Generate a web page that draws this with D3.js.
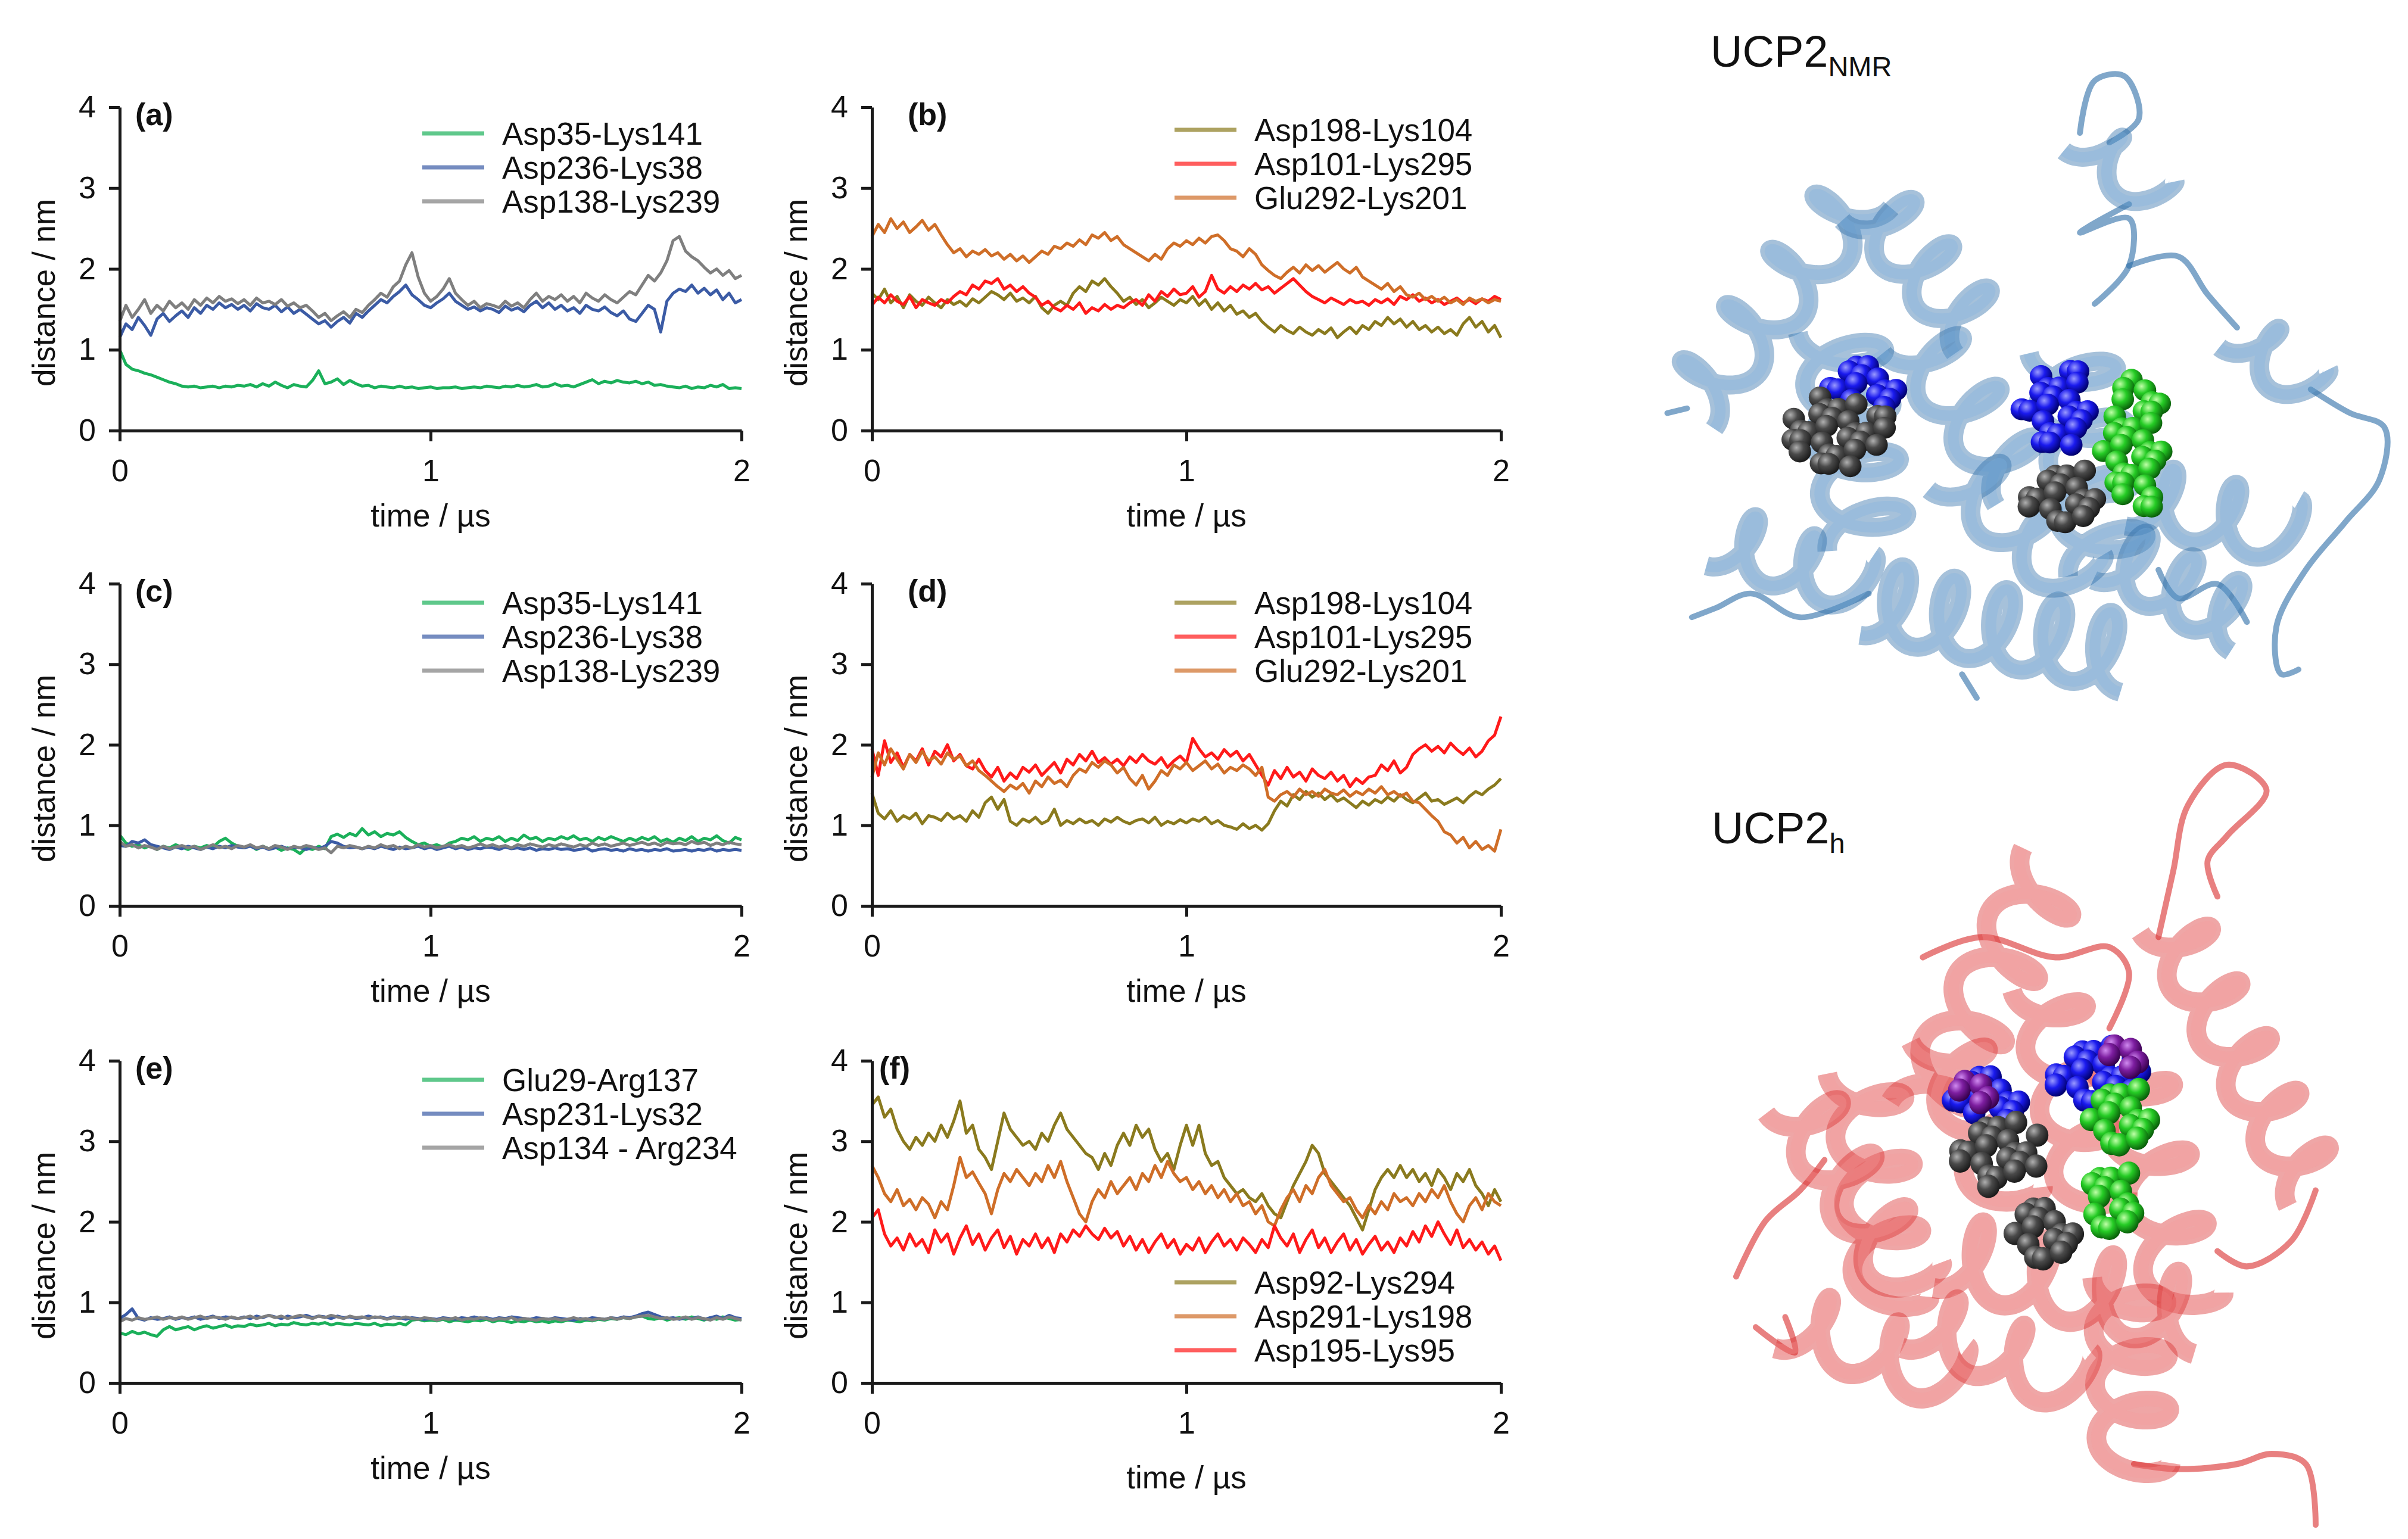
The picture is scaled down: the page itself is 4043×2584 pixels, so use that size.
<!DOCTYPE html>
<html lang="en">
<head>
<meta charset="utf-8">
<script src="https://d3js.org/d3.v7.min.js"></script>
<title>UCP2 salt bridge distances</title>
<style>
  body {margin: 0; background: #fff;}
  svg {display: block; font-family: "Liberation Sans", Arial, sans-serif;}
  .axis path, .axis line {stroke: #1a1a1a; stroke-width: 5px;}
  .axis text {font-size: 52px; fill: #111; font-family: "Liberation Sans", Arial, sans-serif;}
  .title {font-size: 53px; fill: #111;}
  .legend text {font-size: 53px; fill: #111;}
  .plabel {font-size: 52px; font-weight: bold; fill: #111;}
  .trace {fill: none; stroke-width: 5px; stroke-linejoin: round;}
</style>
</head>
<body>
<svg id="fig" width="4043" height="2584"></svg>
<script>
// ---------- data (one sample every 0.02 µs, 0..2 µs) ----------
var tStep = 0.02;
var xTicks = [0, 1, 2];
var yTicks = [0, 1, 2, 3, 4];
var xTitle = 'time / µs';
var yTitle = 'distance / nm';
var panelLabels = ['(a)', '(b)', '(c)', '(d)', '(e)', '(f)'];

var namesAC = ['Asp35-Lys141', 'Asp236-Lys38', 'Asp138-Lys239'];
var namesBD = ['Asp198-Lys104', 'Asp101-Lys295', 'Glu292-Lys201'];
var namesE = ['Glu29-Arg137', 'Asp231-Lys32', 'Asp134 - Arg234'];
var namesF = ['Asp92-Lys294', 'Asp291-Lys198', 'Asp195-Lys95'];

// (a)
var aGreen = [1.00,0.82,0.76,0.74,0.71,0.69,0.66,0.63,0.60,0.58, 0.55,0.54,0.55,0.53,0.54,0.55,0.53,0.55,0.54,0.56,
  0.55,0.57,0.54,0.58,0.55,0.60,0.56,0.53,0.57,0.55, 0.54,0.62,0.74,0.58,0.60,0.64,0.57,0.62,0.58,0.55,
  0.56,0.53,0.55,0.54,0.53,0.55,0.53,0.54,0.52,0.53, 0.54,0.52,0.53,0.53,0.54,0.52,0.53,0.54,0.53,0.55,
  0.54,0.53,0.55,0.54,0.56,0.54,0.55,0.57,0.54,0.55, 0.58,0.55,0.56,0.54,0.57,0.60,0.63,0.58,0.61,0.59,
  0.62,0.60,0.59,0.61,0.58,0.60,0.56,0.57,0.55,0.54, 0.53,0.55,0.52,0.54,0.53,0.56,0.54,0.57,0.52,0.53, 0.52];
var aBlue = [1.15,1.32,1.25,1.40,1.30,1.18,1.38,1.45,1.35,1.42, 1.48,1.40,1.52,1.45,1.55,1.50,1.58,1.52,1.56,1.50,
  1.55,1.48,1.57,1.52,1.50,1.55,1.47,1.53,1.45,1.50, 1.44,1.38,1.32,1.36,1.28,1.35,1.40,1.33,1.45,1.40,
  1.48,1.55,1.62,1.58,1.66,1.72,1.80,1.68,1.62,1.55, 1.52,1.58,1.63,1.70,1.60,1.55,1.50,1.53,1.48,1.52,
  1.50,1.46,1.54,1.49,1.52,1.47,1.55,1.60,1.52,1.58, 1.50,1.55,1.48,1.52,1.45,1.55,1.50,1.48,1.53,1.46,
  1.42,1.48,1.38,1.35,1.45,1.55,1.50,1.22,1.60,1.70, 1.75,1.72,1.80,1.70,1.76,1.68,1.74,1.62,1.70,1.58, 1.62];
var aGray = [1.35,1.55,1.40,1.50,1.62,1.45,1.55,1.48,1.60,1.52, 1.58,1.50,1.62,1.55,1.64,1.58,1.66,1.60,1.63,1.57,
  1.62,1.55,1.64,1.58,1.60,1.56,1.62,1.54,1.58,1.52, 1.55,1.48,1.40,1.45,1.36,1.42,1.47,1.40,1.50,1.46,
  1.55,1.62,1.70,1.65,1.78,1.85,2.05,2.20,1.90,1.70, 1.60,1.66,1.75,1.88,1.70,1.62,1.55,1.60,1.52,1.57,
  1.55,1.52,1.60,1.54,1.58,1.52,1.62,1.70,1.60,1.66, 1.62,1.68,1.60,1.66,1.58,1.70,1.64,1.60,1.68,1.62,
  1.58,1.65,1.72,1.68,1.80,1.92,1.85,1.95,2.10,2.35, 2.40,2.22,2.15,2.10,2.02,1.95,2.00,1.92,1.98,1.88, 1.92];

// (b)
var bOlive = [1.70,1.62,1.75,1.58,1.66,1.52,1.68,1.60,1.55,1.65, 1.58,1.52,1.62,1.56,1.60,1.54,1.63,1.58,1.65,1.72,
  1.68,1.62,1.70,1.60,1.64,1.58,1.66,1.52,1.45,1.55, 1.60,1.55,1.70,1.78,1.72,1.85,1.80,1.88,1.78,1.70,
  1.60,1.65,1.56,1.62,1.52,1.58,1.65,1.60,1.55,1.62, 1.58,1.66,1.55,1.62,1.50,1.58,1.48,1.55,1.44,1.48,
  1.40,1.45,1.35,1.28,1.22,1.30,1.24,1.20,1.28,1.22, 1.18,1.25,1.20,1.27,1.15,1.22,1.28,1.20,1.30,1.25,
  1.35,1.30,1.40,1.32,1.38,1.28,1.35,1.25,1.30,1.22, 1.28,1.20,1.25,1.18,1.32,1.40,1.28,1.35,1.22,1.30, 1.15];
var bRed = [1.55,1.65,1.58,1.68,1.60,1.56,1.66,1.52,1.62,1.58, 1.55,1.62,1.58,1.66,1.72,1.68,1.80,1.75,1.85,1.82,
  1.88,1.75,1.80,1.72,1.78,1.70,1.65,1.55,1.60,1.52, 1.48,1.55,1.50,1.58,1.45,1.52,1.48,1.56,1.50,1.55,
  1.52,1.58,1.62,1.55,1.68,1.60,1.72,1.66,1.75,1.68, 1.70,1.78,1.65,1.72,1.92,1.75,1.70,1.78,1.72,1.80,
  1.75,1.82,1.74,1.78,1.70,1.76,1.82,1.88,1.80,1.72, 1.66,1.62,1.58,1.64,1.60,1.56,1.62,1.58,1.60,1.55,
  1.62,1.58,1.63,1.56,1.66,1.62,1.68,1.60,1.64,1.58, 1.62,1.56,1.60,1.64,1.58,1.62,1.57,1.63,1.60,1.66, 1.62];
var bOrange = [2.40,2.55,2.45,2.62,2.50,2.58,2.45,2.52,2.60,2.48, 2.55,2.42,2.30,2.20,2.25,2.15,2.22,2.18,2.24,2.16,
  2.20,2.12,2.18,2.10,2.16,2.08,2.15,2.22,2.18,2.28, 2.25,2.32,2.28,2.36,2.30,2.42,2.38,2.45,2.35,2.40,
  2.30,2.25,2.20,2.15,2.10,2.18,2.12,2.25,2.32,2.28, 2.35,2.30,2.38,2.32,2.40,2.42,2.35,2.25,2.22,2.15,
  2.25,2.18,2.05,1.98,1.92,1.88,1.96,2.02,1.95,2.05, 1.98,2.04,1.96,2.02,2.08,2.00,1.95,2.02,1.90,1.85,
  1.80,1.75,1.82,1.72,1.78,1.68,1.65,1.70,1.62,1.66, 1.60,1.65,1.58,1.62,1.56,1.64,1.60,1.63,1.58,1.62, 1.60];

// (c)
var cGreen = [0.88,0.78,0.74,0.76,0.72,0.75,0.70,0.74,0.72,0.76, 0.73,0.70,0.74,0.72,0.75,0.73,0.80,0.84,0.78,0.74,
  0.72,0.75,0.70,0.74,0.71,0.73,0.69,0.72,0.70,0.65, 0.72,0.70,0.74,0.71,0.86,0.89,0.85,0.90,0.87,0.96,
  0.88,0.92,0.86,0.90,0.88,0.92,0.85,0.80,0.76,0.78, 0.74,0.76,0.73,0.78,0.80,0.84,0.82,0.86,0.80,0.84,
  0.82,0.86,0.80,0.84,0.81,0.88,0.83,0.85,0.80,0.84, 0.82,0.86,0.83,0.87,0.82,0.84,0.80,0.85,0.82,0.86,
  0.83,0.80,0.84,0.81,0.85,0.82,0.86,0.80,0.83,0.79, 0.84,0.81,0.86,0.80,0.84,0.82,0.87,0.81,0.78,0.85, 0.82];
var cBlue = [0.75,0.74,0.80,0.78,0.82,0.76,0.74,0.72,0.70,0.73, 0.71,0.74,0.72,0.70,0.73,0.71,0.74,0.72,0.75,0.73,
  0.72,0.74,0.71,0.73,0.70,0.72,0.74,0.71,0.73,0.72, 0.70,0.73,0.71,0.74,0.80,0.78,0.74,0.72,0.73,0.71,
  0.73,0.71,0.74,0.72,0.70,0.73,0.71,0.72,0.74,0.71, 0.73,0.70,0.72,0.74,0.71,0.73,0.70,0.72,0.71,0.73,
  0.72,0.70,0.73,0.71,0.72,0.70,0.72,0.69,0.71,0.70, 0.72,0.70,0.71,0.69,0.70,0.72,0.68,0.70,0.71,0.69,
  0.70,0.68,0.71,0.69,0.70,0.68,0.70,0.69,0.71,0.68, 0.69,0.70,0.68,0.70,0.69,0.71,0.68,0.70,0.69,0.70, 0.69];
var cGray = [0.80,0.74,0.76,0.72,0.75,0.73,0.70,0.74,0.71,0.73, 0.75,0.72,0.74,0.70,0.73,0.76,0.72,0.74,0.71,0.75,
  0.73,0.76,0.72,0.74,0.71,0.75,0.73,0.70,0.74,0.72, 0.75,0.73,0.70,0.72,0.66,0.74,0.72,0.75,0.73,0.71,
  0.74,0.72,0.76,0.73,0.75,0.71,0.74,0.72,0.76,0.73, 0.75,0.72,0.74,0.76,0.73,0.75,0.72,0.74,0.77,0.74,
  0.76,0.73,0.75,0.72,0.76,0.74,0.77,0.75,0.73,0.76, 0.74,0.77,0.75,0.73,0.76,0.74,0.78,0.75,0.77,0.74,
  0.76,0.78,0.75,0.77,0.79,0.76,0.78,0.75,0.79,0.77, 0.78,0.76,0.80,0.77,0.79,0.75,0.78,0.76,0.79,0.77, 0.76];

// (d)
var dOlive = [1.40,1.15,1.08,1.18,1.05,1.12,1.08,1.15,1.02,1.12, 1.10,1.06,1.15,1.08,1.12,1.05,1.18,1.10,1.28,1.35,
  1.20,1.32,1.05,1.00,1.08,1.04,1.10,1.02,1.06,1.20, 1.00,1.06,1.02,1.08,1.03,1.06,1.00,1.08,1.04,1.10,
  1.05,1.02,1.06,1.08,1.03,1.10,1.00,1.05,1.02,1.07, 1.03,1.08,1.05,1.10,1.02,1.06,1.00,0.98,0.95,1.02,
  0.96,1.00,0.94,1.02,1.18,1.30,1.24,1.38,1.32,1.42, 1.35,1.40,1.32,1.38,1.30,1.34,1.28,1.22,1.30,1.25,
  1.32,1.28,1.35,1.30,1.38,1.32,1.28,1.34,1.40,1.30, 1.32,1.26,1.30,1.34,1.28,1.36,1.42,1.38,1.45,1.50, 1.58];
var dRed = [1.95,1.62,2.05,1.78,1.90,1.72,1.88,1.80,1.95,1.75, 1.92,1.85,2.00,1.80,1.88,1.74,1.70,1.82,1.68,1.60,
  1.72,1.55,1.65,1.58,1.72,1.66,1.75,1.62,1.70,1.78, 1.65,1.82,1.75,1.88,1.80,1.92,1.78,1.84,1.76,1.82,
  1.74,1.85,1.78,1.88,1.80,1.76,1.84,1.72,1.80,1.86, 1.78,2.08,1.95,1.85,1.90,1.82,1.94,1.86,1.92,1.80,
  1.88,1.75,1.62,1.50,1.68,1.58,1.72,1.60,1.66,1.55, 1.70,1.62,1.58,1.66,1.55,1.62,1.48,1.58,1.52,1.60,
  1.62,1.75,1.68,1.80,1.65,1.72,1.88,1.95,2.00,1.92, 1.98,1.90,2.02,1.94,1.88,1.96,1.85,1.92,2.05,2.12, 2.35];
var dOrange = [1.60,1.90,1.75,1.95,1.82,1.70,1.88,1.78,1.92,1.80, 1.85,1.76,1.90,1.82,1.86,1.74,1.80,1.68,1.62,1.55,
  1.48,1.42,1.50,1.45,1.52,1.40,1.55,1.48,1.60,1.52, 1.56,1.48,1.62,1.70,1.66,1.78,1.72,1.80,1.75,1.65,
  1.72,1.58,1.50,1.62,1.45,1.55,1.68,1.62,1.75,1.70, 1.78,1.68,1.74,1.80,1.70,1.76,1.65,1.72,1.68,1.75,
  1.70,1.62,1.72,1.35,1.30,1.38,1.42,1.35,1.45,1.38, 1.42,1.36,1.45,1.40,1.38,1.44,1.36,1.42,1.38,1.45,
  1.40,1.48,1.38,1.42,1.36,1.40,1.30,1.28,1.20,1.12, 1.05,0.92,0.88,0.78,0.85,0.72,0.80,0.70,0.75,0.68, 0.95];

// (e)
var eGreen = [0.62,0.60,0.64,0.61,0.63,0.60,0.58,0.66,0.70,0.66, 0.68,0.70,0.66,0.69,0.71,0.68,0.70,0.72,0.69,0.71,
  0.70,0.73,0.71,0.72,0.74,0.71,0.73,0.72,0.75,0.73, 0.72,0.74,0.73,0.75,0.72,0.74,0.73,0.72,0.74,0.73,
  0.72,0.74,0.71,0.73,0.72,0.74,0.72,0.78,0.79,0.77, 0.78,0.77,0.79,0.76,0.78,0.77,0.76,0.78,0.77,0.79,
  0.76,0.78,0.77,0.75,0.77,0.76,0.78,0.76,0.77,0.75, 0.77,0.76,0.78,0.77,0.76,0.78,0.77,0.79,0.78,0.80,
  0.79,0.81,0.80,0.82,0.83,0.80,0.79,0.81,0.78,0.80, 0.81,0.79,0.82,0.80,0.78,0.81,0.79,0.82,0.80,0.78, 0.79];
var eBlue = [0.80,0.85,0.92,0.80,0.78,0.81,0.79,0.80,0.82,0.79, 0.81,0.80,0.82,0.79,0.81,0.83,0.80,0.82,0.81,0.80,
  0.82,0.80,0.83,0.81,0.84,0.82,0.80,0.83,0.81,0.82, 0.84,0.81,0.83,0.82,0.80,0.83,0.81,0.82,0.80,0.81,
  0.83,0.81,0.82,0.80,0.82,0.81,0.79,0.81,0.80,0.79, 0.80,0.79,0.81,0.80,0.79,0.81,0.80,0.82,0.80,0.81,
  0.79,0.81,0.80,0.82,0.81,0.80,0.79,0.81,0.80,0.79, 0.81,0.80,0.79,0.78,0.80,0.79,0.81,0.80,0.79,0.81,
  0.80,0.82,0.81,0.83,0.86,0.88,0.85,0.82,0.80,0.81, 0.79,0.81,0.80,0.82,0.79,0.81,0.83,0.80,0.84,0.81, 0.80];
var eGray = [0.76,0.80,0.78,0.81,0.79,0.80,0.82,0.79,0.81,0.80, 0.82,0.79,0.81,0.83,0.80,0.82,0.81,0.79,0.82,0.80,
  0.81,0.83,0.80,0.82,0.84,0.81,0.83,0.80,0.82,0.84, 0.82,0.80,0.83,0.81,0.84,0.82,0.80,0.83,0.81,0.82,
  0.80,0.82,0.81,0.79,0.81,0.80,0.82,0.80,0.79,0.81, 0.80,0.78,0.80,0.79,0.81,0.78,0.80,0.79,0.81,0.80,
  0.78,0.80,0.79,0.81,0.78,0.80,0.79,0.78,0.80,0.79, 0.80,0.78,0.79,0.81,0.79,0.80,0.78,0.80,0.79,0.81,
  0.79,0.81,0.80,0.82,0.83,0.84,0.82,0.80,0.81,0.79, 0.80,0.82,0.79,0.81,0.80,0.78,0.81,0.79,0.82,0.80, 0.78];

// (f)
var fOlive = [3.45,3.55,3.30,3.40,3.15,3.00,2.90,3.05,2.95,3.10, 3.00,3.20,3.05,3.25,3.50,3.10,3.20,2.90,2.80,2.65,
  3.00,3.35,3.15,3.05,2.95,3.00,2.90,3.10,3.00,3.20, 3.35,3.15,3.05,2.95,2.85,2.80,2.65,2.85,2.70,2.95,
  3.10,2.95,3.20,3.05,3.15,2.90,2.75,2.85,2.65,2.95, 3.20,2.95,3.20,2.85,2.70,2.75,2.55,2.45,2.35,2.40,
  2.30,2.25,2.35,2.20,2.10,2.05,2.25,2.45,2.60,2.75, 2.95,2.85,2.60,2.50,2.40,2.30,2.20,2.05,1.90,2.15,
  2.40,2.55,2.65,2.55,2.70,2.55,2.65,2.50,2.60,2.45, 2.65,2.55,2.40,2.60,2.50,2.65,2.45,2.35,2.20,2.40, 2.25];
var fOrange = [2.70,2.55,2.35,2.25,2.40,2.20,2.28,2.15,2.30,2.22, 2.05,2.25,2.15,2.45,2.80,2.55,2.62,2.48,2.35,2.10,
  2.40,2.60,2.50,2.65,2.55,2.45,2.60,2.50,2.70,2.55, 2.75,2.50,2.30,2.10,2.00,2.25,2.40,2.30,2.50,2.35,
  2.45,2.55,2.40,2.60,2.50,2.70,2.55,2.75,2.60,2.50, 2.55,2.40,2.50,2.35,2.45,2.30,2.40,2.25,2.35,2.20,
  2.25,2.10,2.20,2.00,1.95,2.15,2.30,2.40,2.25,2.45, 2.35,2.55,2.65,2.45,2.35,2.25,2.30,2.15,2.05,2.20,
  2.10,2.25,2.15,2.35,2.25,2.30,2.20,2.35,2.25,2.40, 2.30,2.45,2.25,2.10,2.00,2.20,2.30,2.15,2.35,2.25, 2.20];
var fRed = [2.05,2.15,1.85,1.70,1.80,1.65,1.85,1.70,1.78,1.62, 1.90,1.75,1.85,1.60,1.80,1.95,1.72,1.85,1.65,1.80,
  1.90,1.68,1.82,1.60,1.78,1.70,1.85,1.68,1.80,1.62, 1.85,1.75,1.90,1.82,1.95,1.85,1.78,1.92,1.80,1.88,
  1.70,1.82,1.65,1.78,1.62,1.75,1.85,1.68,1.78,1.60, 1.72,1.65,1.80,1.62,1.75,1.85,1.70,1.78,1.65,1.80,
  1.72,1.62,1.78,1.68,1.95,1.80,1.70,1.85,1.62,1.78, 1.90,1.68,1.80,1.62,1.75,1.85,1.65,1.78,1.60,1.72,
  1.82,1.65,1.75,1.62,1.80,1.70,1.88,1.75,1.95,1.82, 2.00,1.85,1.72,1.90,1.68,1.78,1.65,1.75,1.60,1.70, 1.52];

var coolColors = ['#1bb05a', '#3b5ba5', '#7f7f7f'];
var warmColors = ['#8a7a1e', '#ff1a1a', '#cf6e28'];
var warmColorsF = ['#8a7a1e', '#cf6e28', '#ff1a1a'];

// ---------- layout ----------
var svg = d3.select('#fig');
var cols = [{x0: 201, x1: 1245}, {x0: 1464, x1: 2520}];
var rows = [{top: 180, bot: 723}, {top: 980, bot: 1521}, {top: 1781, bot: 2322}];

var panels = [
  {col: 0, row: 0, labelDx: 26, legendDy: 44, names: namesAC, colors: coolColors, series: [aGreen, aBlue, aGray]},
  {col: 1, row: 0, labelDx: 60, legendDy: 38, names: namesBD, colors: warmColors, series: [bOlive, bRed, bOrange]},
  {col: 0, row: 1, labelDx: 26, legendDy: 32, names: namesAC, colors: coolColors, series: [cGreen, cBlue, cGray]},
  {col: 1, row: 1, labelDx: 60, legendDy: 32, names: namesBD, colors: warmColors, series: [dOlive, dRed, dOrange]},
  {col: 0, row: 2, labelDx: 26, legendDy: 32, names: namesE, colors: coolColors, series: [eGreen, eBlue, eGray]},
  {col: 1, row: 2, labelDx: 12, legendDy: 372, names: namesF, colors: warmColorsF, series: [fOlive, fOrange, fRed], titleDy: 158}
];

panels.forEach(function (p, pi) {
  var c = cols[p.col], r = rows[p.row];
  var x = d3.scaleLinear().domain([0, 2]).range([c.x0, c.x1]);
  var y = d3.scaleLinear().domain([0, 4]).range([r.bot, r.top]);
  var g = svg.append('g');

  var line = d3.line().x(function (d, i) { return x(i * tStep); }).y(function (d) { return y(d); });
  g.selectAll('path.trace').data(p.series).enter().append('path')
    .attr('class', 'trace')
    .attr('stroke', function (d, i) { return p.colors[i]; })
    .attr('d', line);

  g.append('g').attr('class', 'axis').attr('transform', 'translate(0,' + r.bot + ')')
    .call(d3.axisBottom(x).tickValues(xTicks).tickSize(18).tickSizeOuter(0).tickPadding(30).tickFormat(d3.format('d')));
  g.append('g').attr('class', 'axis').attr('transform', 'translate(' + c.x0 + ',0)')
    .call(d3.axisLeft(y).tickValues(yTicks).tickSize(18).tickSizeOuter(0).tickPadding(22).tickFormat(d3.format('d')));

  g.append('text').attr('class', 'title')
    .attr('x', (c.x0 + c.x1) / 2).attr('y', r.bot + (p.titleDy || 142))
    .attr('text-anchor', 'middle').attr('dominant-baseline', 'central').text(xTitle);
  g.append('text').attr('class', 'title')
    .attr('transform', 'translate(' + (c.x0 - 128) + ',' + ((r.top + r.bot) / 2 + 40) + ') rotate(-90)')
    .attr('text-anchor', 'middle').attr('dominant-baseline', 'central').text(yTitle);
  g.append('text').attr('class', 'plabel')
    .attr('x', c.x0 + p.labelDx).attr('y', r.top + 12)
    .attr('dominant-baseline', 'central').text(panelLabels[pi]);

  var lg = g.append('g').attr('class', 'legend')
    .attr('transform', 'translate(' + c.x0 + ',' + (r.top + p.legendDy) + ')');
  var item = lg.selectAll('g').data(p.names).enter().append('g')
    .attr('transform', function (d, i) { return 'translate(0,' + i * 57 + ')'; });
  item.append('line').attr('x1', 508).attr('x2', 612)
    .attr('stroke', function (d, i) { return p.colors[i]; })
    .attr('stroke-width', 7).attr('stroke-opacity', 0.7);
  item.append('text').attr('x', 642).attr('dominant-baseline', 'central').text(function (d) { return d; });
});

// ---------- protein cartoons (illustration, drawn in a local frame) ----------
var defs = svg.append('defs');
var sphereKinds = {
  blue:   ['#9a9aff', '#1a1aee', '#00006a'],
  gray:   ['#b0b0b0', '#4a4a4a', '#1a1a1a'],
  green:  ['#c0ffa8', '#25cc25', '#0a5e0a'],
  purple: ['#d08af0', '#7d1ea0', '#36004c']
};
Object.keys(sphereKinds).forEach(function (k) {
  var gr = defs.append('radialGradient').attr('id', 'sp-' + k)
    .attr('cx', '35%').attr('cy', '32%').attr('r', '70%');
  gr.append('stop').attr('offset', '0%').attr('stop-color', sphereKinds[k][0]);
  gr.append('stop').attr('offset', '45%').attr('stop-color', sphereKinds[k][1]);
  gr.append('stop').attr('offset', '100%').attr('stop-color', sphereKinds[k][2]);
});

// helices: [x0, y0, x1, y1, turns, radius]; coils: point lists
var nmrHelices = [
  [100, 860, 460, 395, 4, 70], [470, 420, 700, 700, 3, 70], [410, 690, 470, 1150, 4, 85],
  [560, 700, 790, 1020, 3, 75], [160, 1130, 460, 1230, 2.5, 65], [470, 1260, 1000, 1380, 5, 80],
  [880, 730, 960, 1200, 4, 85], [1010, 1040, 1330, 1120, 2.5, 70], [960, 1160, 1240, 1310, 3, 70],
  [1220, 690, 1370, 820, 1.5, 55], [900, 280, 1060, 420, 1.5, 50], [640, 980, 900, 1220, 2.5, 70]
];
var nmrCoils = [
  [[60, 870], [100, 860]],
  [[930, 640], [1000, 560], [1000, 460], [900, 490], [1000, 430]],
  [[900, 280], [930, 170], [990, 160], [1020, 250], [960, 300]],
  [[1000, 560], [1100, 540], [1160, 620], [1220, 690]],
  [[1370, 820], [1450, 870], [1520, 900], [1510, 1010], [1440, 1100], [1360, 1200], [1300, 1320], [1310, 1420], [1345, 1410]],
  [[110, 1300], [160, 1280], [230, 1250], [330, 1300], [470, 1250]],
  [[1240, 1310], [1180, 1230], [1100, 1260], [1060, 1200]],
  [[660, 1420], [690, 1470]]
];
var nmrSpheres = [
  {cx: 470, cy: 815, rx: 85, ry: 50, k: 'blue'}, {cx: 410, cy: 905, rx: 100, ry: 80, k: 'gray'},
  {cx: 860, cy: 860, rx: 80, ry: 95, k: 'blue'}, {cx: 1010, cy: 945, rx: 70, ry: 150, k: 'green'},
  {cx: 875, cy: 1045, rx: 85, ry: 60, k: 'gray'}
];

var hHelices = [
  [850, 240, 580, 740, 4, 75], [460, 640, 520, 1100, 3.5, 75], [320, 690, 560, 1060, 3.5, 70],
  [830, 470, 930, 900, 3.5, 70], [1000, 620, 1120, 1100, 3.5, 75], [1080, 340, 1380, 880, 5, 65],
  [1000, 1050, 1010, 1420, 3.5, 75], [620, 1000, 1150, 1130, 4, 75], [300, 1130, 650, 1250, 2.5, 65],
  [560, 1130, 900, 1260, 2.5, 65], [620, 560, 760, 900, 2.5, 70]
];
var hCoils = [
  [[1060, 380], [1090, 250], [1120, 120], [1200, 40], [1280, 90], [1200, 180], [1160, 230], [1180, 300]],
  [[580, 420], [700, 380], [850, 420], [960, 400], [1000, 450], [960, 560]],
  [[200, 1050], [260, 940], [330, 880], [380, 820]],
  [[240, 1150], [320, 1200], [300, 1130]],
  [[1010, 1420], [1100, 1430], [1220, 1420], [1290, 1400], [1360, 1420], [1380, 1540]],
  [[1380, 880], [1330, 980], [1240, 1030], [1180, 1000]]
];
var hSpheres = [
  {cx: 720, cy: 700, rx: 85, ry: 50, k: 'blue'}, {cx: 680, cy: 690, rx: 40, ry: 35, k: 'purple'},
  {cx: 735, cy: 800, rx: 90, ry: 75, k: 'gray'}, {cx: 930, cy: 650, rx: 100, ry: 60, k: 'blue'},
  {cx: 985, cy: 620, rx: 50, ry: 30, k: 'purple'}, {cx: 985, cy: 735, rx: 65, ry: 65, k: 'green'},
  {cx: 830, cy: 960, rx: 65, ry: 60, k: 'gray'}, {cx: 965, cy: 900, rx: 55, ry: 75, k: 'green'}
];

function helixPoints(h) {
  var dx = h[2] - h[0], dy = h[3] - h[1], L = Math.hypot(dx, dy);
  var ux = dx / L, uy = dy / L, nx = -uy, ny = ux;
  var n = Math.round(h[4] * 32);
  return d3.range(n + 1).map(function (k) {
    var s = k / n, th = 2 * Math.PI * h[4] * s;
    var a = s * L + 0.55 * h[5] * Math.sin(th), b = h[5] * Math.cos(th);
    return [h[0] + ux * a + nx * b, h[1] + uy * a + ny * b];
  });
}

// small fixed offsets so the sphere packs do not look like a grid
var jitter = [[0, 0], [6, -4], [-5, 5], [4, 7], [-7, -3], [3, -8], [-2, 6], [8, 2]];

function drawProtein(frame, helices, coils, spheres, dark, light) {
  var smooth = d3.line().curve(d3.curveCatmullRom);
  var rib = frame.append('g');
  coils.forEach(function (c) {
    rib.append('path').attr('d', smooth(c)).attr('fill', 'none')
      .attr('stroke', dark).attr('stroke-width', 12).attr('stroke-opacity', 0.6).attr('stroke-linecap', 'round');
  });
  helices.forEach(function (h) {
    var pts = helixPoints(h);
    rib.append('path').attr('d', smooth(pts)).attr('fill', 'none')
      .attr('stroke', dark).attr('stroke-width', 40).attr('stroke-opacity', 0.42).attr('stroke-linejoin', 'round');
    rib.append('path').attr('d', smooth(pts)).attr('fill', 'none')
      .attr('stroke', light).attr('stroke-width', 22).attr('stroke-opacity', 0.3);
  });
  var sg = frame.append('g');
  spheres.forEach(function (c) {
    var rs = 23, step = rs * 1.25, pts = [];
    for (var j = -7; j <= 7; j++) {
      for (var i = -7; i <= 7; i++) {
        var jt = jitter[((i * 3 + j * 5) % 8 + 8) % 8];
        var px = i * step + (j % 2 ? step / 2 : 0) + jt[0], py = j * step * 0.87 + jt[1];
        var inside = (px * px) / (c.rx * c.rx) + (py * py) / (c.ry * c.ry) <= 1;
        if (inside && ((i * 7 + j * 11) % 4 + 4) % 4 !== 0) pts.push([c.cx + px, c.cy + py]);
      }
    }
    sg.selectAll(null).data(pts).enter().append('circle')
      .attr('cx', function (d) { return d[0]; }).attr('cy', function (d) { return d[1]; })
      .attr('r', rs).attr('fill', 'url(#sp-' + c.k + ')');
  });
}

var nmrFrame = svg.append('g').attr('transform', 'translate(2750,0) scale(0.8246,0.7972)');
drawProtein(nmrFrame, nmrHelices, nmrCoils, nmrSpheres, '#2b6ca6', '#7fb3e0');
var hFrame = svg.append('g').attr('transform', 'translate(2750,1250) scale(0.8246,0.8508)');
drawProtein(hFrame, hHelices, hCoils, hSpheres, '#d92b2b', '#f59a9a');

// structure titles
var t1 = svg.append('text').attr('x', 2872).attr('y', 112).attr('font-size', 74).attr('fill', '#111');
t1.append('tspan').text('UCP2');
t1.append('tspan').attr('font-size', 47).attr('dy', 16).text('NMR');
var t2 = svg.append('text').attr('x', 2874).attr('y', 1416).attr('font-size', 74).attr('fill', '#111');
t2.append('tspan').text('UCP2');
t2.append('tspan').attr('font-size', 47).attr('dy', 16).text('h');
</script>
</body>
</html>
